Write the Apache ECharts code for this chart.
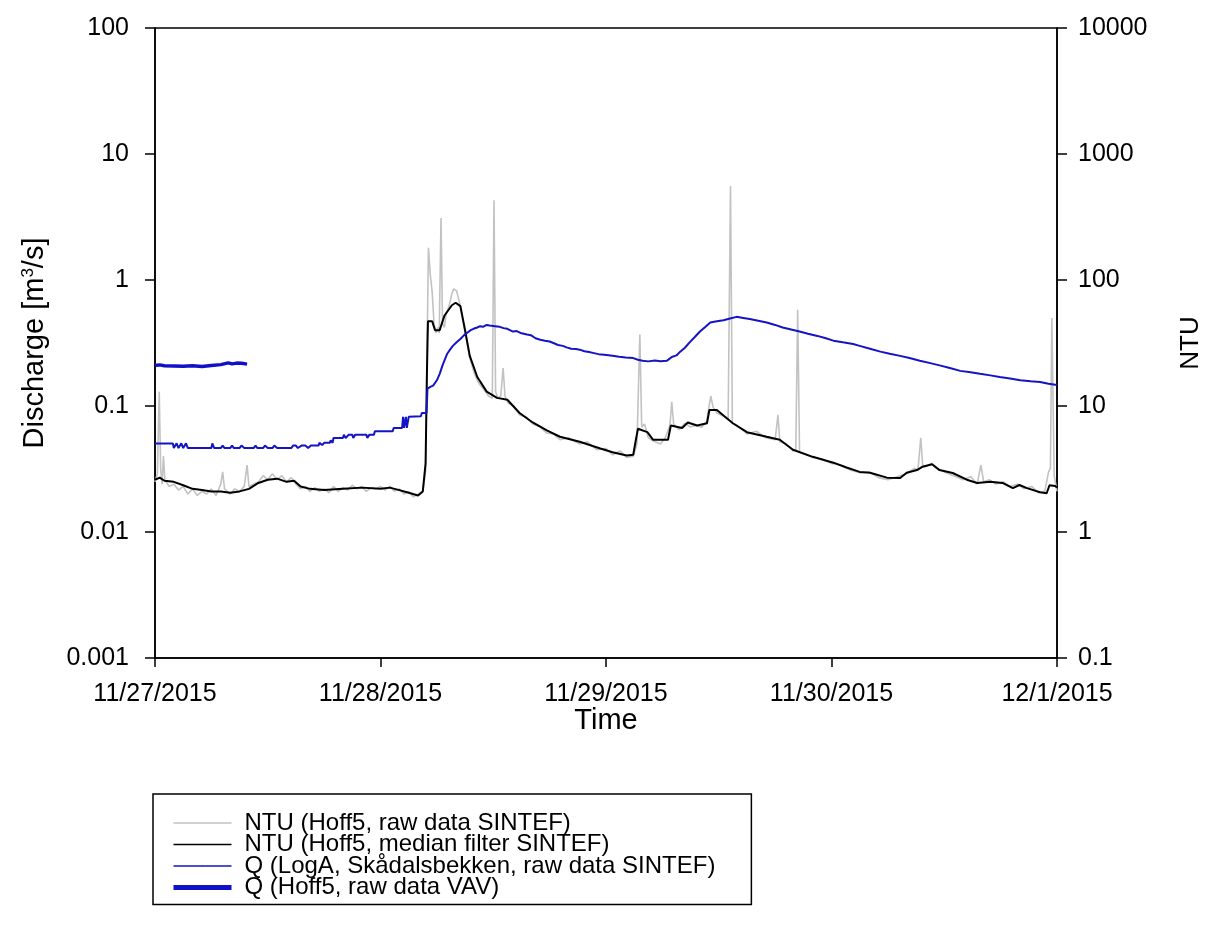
<!DOCTYPE html>
<html>
<head>
<meta charset="utf-8">
<script src="https://cdn.jsdelivr.net/npm/echarts@6/dist/echarts.min.js"></script>
<style>
html,body{margin:0;padding:0;background:#fff;overflow:hidden;}
#chart{width:1208px;height:936px;}
</style>
</head>
<body>
<div id="chart"></div>
<script>
// ---- Data (x = hours after 11/27/2015 00:00) ----
const xTickLabels = ['11/27/2015', '11/28/2015', '11/29/2015', '11/30/2015', '12/1/2015'];
const leftTickLabels = ['0.001', '0.01', '0.1', '1', '10', '100'];
const rightTickLabels = ['0.1', '1', '10', '100', '1000', '10000'];
const seriesNames = [
  'NTU (Hoff5, raw data SINTEF)',
  'NTU (Hoff5, median filter SINTEF)',
  'Q (LogA, Skådalsbekken, raw data SINTEF)',
  'Q (Hoff5, raw data VAV)'
];

// NTU raw (right axis)
const ntuRaw = [
  [0,2.5],[0.25,2.9],[0.45,13],[0.6,3.2],[0.75,2.4],[0.9,4.0],[1.05,2.6],[1.5,2.3],[2,2.4],[2.5,2.15],
  [3,2.3],[3.5,2.0],[4,2.2],[4.5,1.95],[5,2.1],[5.5,2.0],[6,2.2],[6.5,1.95],[7,2.4],[7.2,3.0],
  [7.4,2.2],[8,2.0],[8.5,2.2],[9,2.1],[9.5,2.3],[9.8,3.4],[10,2.3],[10.5,2.4],[11,2.5],[11.5,2.8],
  [12,2.6],[12.5,2.9],[13,2.6],[13.5,2.8],[14,2.5],[14.5,2.7],[15,2.4],[15.5,2.2],[16,2.3],[16.5,2.1],
  [17,2.25],[17.5,2.1],[18,2.2],[18.5,2.05],[19,2.3],[19.5,2.1],[20,2.25],[20.5,2.15],[21,2.35],[21.5,2.2],
  [22,2.3],[22.5,2.1],[23,2.25],[23.5,2.2],[24,2.3],[24.5,2.15],[25,2.3],[25.5,2.1],[26,2.2],[26.5,2.0],
  [27,2.1],[27.5,1.9],[28,2.0],[28.5,2.1],[28.8,3.0],[28.95,25],[29.1,180],[29.3,110],[29.5,80],[29.7,45],
  [29.9,38],[30.1,42],[30.25,38],[30.44,310],[30.6,45],[30.8,42],[31.0,55],[31.3,62],[31.6,78],[31.8,85],
  [32.1,82],[32.5,62],[33,38],[33.5,24],[34,18],[34.5,15],[35,13.5],[35.5,12],[35.9,11.5],[36.08,430],
  [36.25,13],[36.5,11.5],[36.8,12],[37.05,20],[37.25,12],[37.6,10.5],[38.2,10],[38.8,8.5],[39.5,8.2],[40.2,7.2],
  [41,6.8],[41.7,6.1],[42.4,6.0],[43.1,5.4],[44,5.6],[45.2,5.0],[46,5.2],[47,4.5],[48,4.6],[48.7,4.1],
  [49.5,4.4],[50.2,3.9],[50.9,4.0],[51.3,5.0],[51.6,37],[51.8,6.8],[52.1,7.2],[52.5,5.6],[53,5.3],[53.8,5.0],
  [54.3,5.6],[54.8,7.0],[55.0,10.8],[55.2,7.2],[55.8,6.5],[56.4,7.3],[57,6.8],[57.5,7.0],[58.2,6.8],[58.7,7.5],
  [59.15,12],[59.4,9.8],[59.8,8.8],[60.5,8.3],[61.0,7.8],[61.25,557],[61.45,7.3],[62,7.0],[63,6.0],[64,6.3],
  [65,5.6],[66,5.4],[66.3,8.5],[66.5,5.2],[67.2,5.0],[67.9,4.4],[68.2,4.5],[68.4,58],[68.6,4.3],[69,4.2],
  [70,3.9],[71,3.8],[72,3.5],[73,3.4],[74,3.1],[75,2.95],[76,3.0],[77,2.7],[78,2.6],[79,2.75],
  [80,2.9],[80.8,3.2],[81.2,3.1],[81.5,5.6],[81.7,3.4],[82,3.3],[82.7,3.5],[83.2,3.2],[84,3.0],[85,2.8],
  [86,2.6],[86.8,2.75],[87.5,2.4],[87.9,3.4],[88.2,2.5],[88.8,2.6],[89.5,2.4],[90.3,2.5],[91,2.3],[91.8,2.4],
  [92.5,2.2],[93.3,2.3],[94,2.05],[94.7,2.1],[95.1,3.0],[95.3,3.2],[95.45,50],[95.7,2.8],[96,2.1]
];

// NTU median filter (right axis)
const ntuMedian = [
  [0,2.6],[0.5,2.7],[1,2.55],[2,2.5],[3,2.35],[4,2.2],[5,2.15],[6,2.1],[7,2.1],[8,2.05],
  [9,2.1],[10,2.2],[11,2.45],[12,2.6],[13,2.65],[14,2.5],[14.8,2.55],[15.5,2.3],[16.5,2.2],[18,2.15],
  [20,2.2],[22,2.25],[24,2.2],[25,2.25],[26,2.15],[27,2.05],[28,1.95],[28.5,2.1],[28.8,3.5],[28.95,20],
  [29.05,47],[29.5,47],[29.8,40],[30.3,40],[30.8,52],[31.1,56],[31.6,63],[32,66],[32.5,62],[33,40],
  [33.5,25],[34.3,17],[35.3,13],[36.4,11.6],[37.5,11.2],[38.8,8.8],[40.2,7.4],[41.7,6.4],[43.1,5.7],[45.2,5.2],
  [47.4,4.6],[48.7,4.3],[50.2,4.05],[50.9,4.1],[51.2,5.5],[51.4,6.6],[52.4,6.2],[53,5.4],[54.6,5.4],[54.9,7.0],
  [56.1,6.7],[56.7,7.4],[57.7,7.0],[58.75,7.3],[59.0,9.3],[59.8,9.3],[61.5,7.3],[63,6.2],[65.1,5.7],[66.5,5.4],
  [67.9,4.5],[70,3.95],[72.2,3.55],[73.6,3.25],[75,3.0],[76.1,2.95],[77.9,2.7],[79.3,2.68],[80,2.95],[81.1,3.1],
  [81.7,3.3],[82.7,3.45],[83.5,3.1],[84.9,2.94],[86.4,2.6],[87.5,2.45],[88.9,2.5],[90.2,2.45],[91.3,2.23],[92,2.36],
  [92.8,2.23],[94.2,2.07],[94.9,2.03],[95.2,2.35],[95.8,2.32],[96,2.25]
];

// Q LogA Skådalsbekken (left axis, m3/s)
const qLogA = [
  [0,0.0505],[1.9,0.0505],[2.0,0.0464],[2.3,0.0505],[2.5,0.0464],[2.8,0.0505],[3.0,0.0464],[3.3,0.0505],[3.5,0.0464],[6.0,0.0464],
  [6.1,0.0505],[6.3,0.0464],[7.0,0.0464],[7.2,0.0485],[7.4,0.0464],[8,0.0464],[8.2,0.0485],[8.4,0.0464],[9,0.0464],[9.2,0.0485],
  [9.5,0.0464],[10.5,0.0464],[10.7,0.0485],[10.9,0.0464],[11.5,0.0464],[11.7,0.0485],[12,0.0464],[12.5,0.0464],[12.7,0.0485],[13.0,0.0464],
  [14.5,0.0464],[14.7,0.0485],[15,0.0485],[15.2,0.0464],[15.6,0.0485],[16,0.0485],[16.3,0.0464],[16.6,0.0485],[17.4,0.0485],[17.5,0.051],
  [17.8,0.049],[18,0.051],[18.6,0.051],[18.7,0.0535],[18.9,0.051],[19.0,0.0557],[20,0.0557],[20.1,0.059],[20.3,0.0557],[20.6,0.059],
  [21,0.059],[21.1,0.0557],[21.3,0.059],[22.5,0.059],[22.6,0.0557],[22.8,0.059],[23.3,0.059],[23.4,0.063],[25.3,0.063],[25.4,0.067],
  [26.3,0.067],[26.4,0.082],[26.5,0.067],[26.7,0.082],[26.8,0.067],[27.0,0.082],[27.1,0.083],[28.3,0.083],[28.4,0.088],[28.6,0.085],
  [28.9,0.088],[29.0,0.137],[29.3,0.142],[29.6,0.145],[29.8,0.15],[30.0,0.16],[30.3,0.18],[30.6,0.21],[31.1,0.26],[31.4,0.28],
  [31.7,0.30],[32.1,0.32],[32.5,0.34],[32.9,0.365],[33.2,0.38],[33.6,0.40],[33.9,0.41],[34.3,0.42],[34.6,0.43],[34.9,0.425],
  [35.3,0.44],[35.6,0.435],[36.0,0.432],[36.4,0.428],[36.7,0.425],[37.1,0.415],[37.5,0.41],[38.1,0.39],[38.5,0.393],[38.9,0.38],
  [39.6,0.37],[40.0,0.365],[40.5,0.345],[41,0.336],[41.5,0.33],[42,0.325],[42.4,0.316],[42.9,0.305],[43.4,0.3],[43.8,0.292],
  [44.3,0.285],[44.8,0.283],[45.2,0.28],[45.7,0.272],[46.2,0.268],[46.6,0.264],[47.2,0.258],[47.8,0.255],[48.7,0.25],[49.4,0.246],
  [50.1,0.243],[50.9,0.24],[51.4,0.233],[51.9,0.229],[52.5,0.226],[53.2,0.23],[53.8,0.227],[54.5,0.229],[55.0,0.245],[55.5,0.252],
  [55.9,0.27],[56.4,0.29],[56.9,0.32],[57.4,0.35],[58,0.39],[58.5,0.42],[59.1,0.46],[59.8,0.47],[60.5,0.48],[61.2,0.495],
  [61.9,0.51],[62.6,0.5],[63.3,0.49],[64.2,0.475],[65.1,0.46],[66,0.44],[66.8,0.42],[67.7,0.405],[68.6,0.39],[69.5,0.375],
  [70.5,0.36],[71.4,0.345],[72.2,0.33],[73.2,0.32],[74.3,0.31],[75,0.30],[76.1,0.285],[77.2,0.27],[78.2,0.26],[79.3,0.25],
  [80.3,0.24],[81.4,0.229],[82.4,0.22],[83.5,0.21],[84.6,0.2],[85.7,0.19],[86.8,0.185],[87.8,0.18],[88.9,0.175],[89.9,0.17],
  [91,0.165],[92.1,0.16],[93.2,0.157],[94.2,0.155],[95.1,0.15],[96,0.147]
];

// Q Hoff5 VAV (left axis, m3/s)
const qVAV = [
  [0,0.21],[0.5,0.212],[1,0.209],[2,0.208],[3,0.207],[4,0.209],[5,0.206],[6,0.21],[7,0.213],[7.8,0.22],
  [8.2,0.216],[8.7,0.219],[9.2,0.218],[9.4,0.222],[9.8,0.215]
];

const chart = echarts.init(document.getElementById('chart'), null, {renderer: 'canvas', width: 1208, height: 936});
const FONT = '"Liberation Sans", Arial, sans-serif';
const decadeLabel = (labels, min) => v => {
  const i = Math.round(Math.log10(v) - Math.log10(min));
  return labels[i] !== undefined ? labels[i] : '';
};
const lineColors = ['#c2c2c2', '#000000', '#1414c4', '#1010c8'];
const lineWidths = [1.6, 2, 2, 3.5];

chart.setOption({
  animation: false,
  backgroundColor: '#fff',
  textStyle: {fontFamily: FONT, color: '#000'},
  grid: {left: 155, right: 151, top: 28, bottom: 278, show: true, borderColor: '#000', borderWidth: 1.5,
    containLabel: false, outerBoundsMode: 'none'},
  xAxis: {
    type: 'value', min: 0, max: 96, interval: 24,
    name: 'Time', nameLocation: 'middle', nameGap: 48, nameMoveOverlap: false,
    nameTextStyle: {fontSize: 29, fontFamily: FONT, color: '#000'},
    axisLine: {lineStyle: {color: '#000', width: 1.5}},
    axisTick: {show: true, length: 9, inside: false, lineStyle: {color: '#000', width: 1.5}},
    axisLabel: {fontSize: 25, fontFamily: FONT, color: '#000', margin: 24, formatter: v => xTickLabels[Math.round(v / 24)]},
    splitLine: {show: false}
  },
  yAxis: [
    {
      type: 'log', logBase: 10, min: 0.001, max: 100, position: 'left',
      name: 'Discharge [m{sup|3}/s]', nameLocation: 'middle', nameGap: 105, nameRotate: 90, nameMoveOverlap: false,
      nameTextStyle: {fontSize: 29, fontFamily: FONT, color: '#000',
        rich: {sup: {fontSize: 17, fontFamily: FONT, color: '#000', padding: [0, 0, 13, 0]}}},
      axisLine: {show: true, lineStyle: {color: '#000', width: 1.5}},
      axisTick: {show: true, length: 10, lineStyle: {color: '#000', width: 1.5}},
      minorTick: {show: false},
      axisLabel: {fontSize: 25, fontFamily: FONT, color: '#000', margin: 26, formatter: decadeLabel(leftTickLabels, 0.001)},
      splitLine: {show: false}
    },
    {
      type: 'log', logBase: 10, min: 0.1, max: 10000, position: 'right',
      name: 'NTU', nameLocation: 'middle', nameGap: 121, nameRotate: 90, nameMoveOverlap: false,
      nameTextStyle: {fontSize: 26, fontFamily: FONT, color: '#000'},
      axisLine: {show: true, lineStyle: {color: '#000', width: 1.5}},
      axisTick: {show: true, length: 10, lineStyle: {color: '#000', width: 1.5}},
      minorTick: {show: false},
      axisLabel: {fontSize: 25, fontFamily: FONT, color: '#000', margin: 21, formatter: decadeLabel(rightTickLabels, 0.1)},
      splitLine: {show: false}
    }
  ],
  legend: {
    orient: 'vertical', left: 153, top: 794,
    padding: [17, 36, 5, 18],
    borderColor: '#000', borderWidth: 1.5,
    itemWidth: 58, itemHeight: 1, itemGap: -2.5,
    textStyle: {fontSize: 24, fontFamily: FONT, color: '#000', padding: [0, 0, 0, 8]},
    data: seriesNames.map((n, i) => ({name: n, lineStyle: {color: lineColors[i], width: i === 3 ? 5 : 1.6}}))
  },
  series: [
    {name: seriesNames[0], type: 'line', yAxisIndex: 1, data: ntuRaw, showSymbol: false, symbol: 'none',
      lineStyle: {color: lineColors[0], width: lineWidths[0]}, itemStyle: {color: lineColors[0]}},
    {name: seriesNames[1], type: 'line', yAxisIndex: 1, data: ntuMedian, showSymbol: false, symbol: 'none',
      lineStyle: {color: lineColors[1], width: lineWidths[1]}, itemStyle: {color: lineColors[1]}},
    {name: seriesNames[2], type: 'line', yAxisIndex: 0, data: qLogA, showSymbol: false, symbol: 'none',
      lineStyle: {color: lineColors[2], width: lineWidths[2]}, itemStyle: {color: lineColors[2]}},
    {name: seriesNames[3], type: 'line', yAxisIndex: 0, data: qVAV, showSymbol: false, symbol: 'none',
      lineStyle: {color: lineColors[3], width: lineWidths[3]}, itemStyle: {color: lineColors[3]}}
  ]
});
</script>
</body>
</html>
